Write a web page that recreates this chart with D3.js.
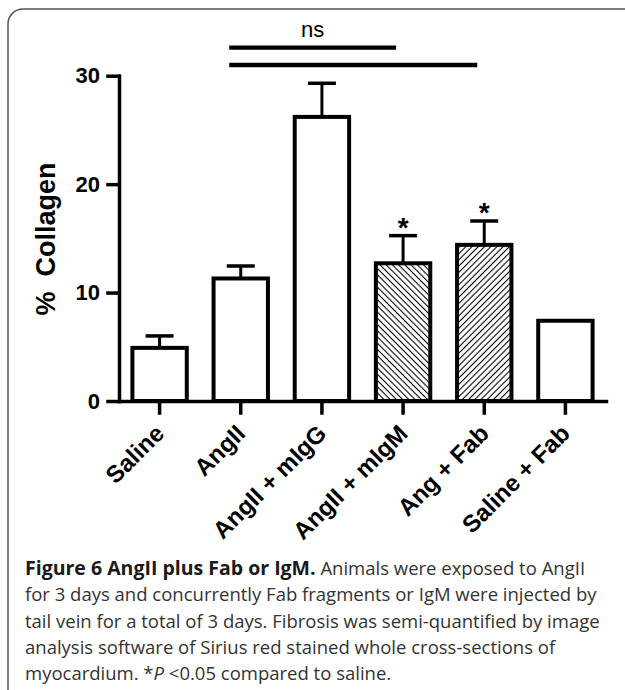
<!DOCTYPE html>
<html>
<head>
<meta charset="utf-8">
<script src="https://cdn.jsdelivr.net/npm/d3@7"></script>
<style>
body { margin: 0; background: #fff; }
svg { display: block; }
.chart text { font-family: "Liberation Sans", Arial, sans-serif; font-weight: bold; fill: #000; }
.caption { font-family: "Open Sans", sans-serif; font-size: 18.5px; fill: #333; }
</style>
</head>
<body>
<svg id="graph"></svg>
<script>
// groups along the x axis
var categories = ["Saline", "AngII", "AngII + mIgG", "AngII + mIgM", "Ang + Fab", "Saline + Fab"];
// % collagen, mean and SEM
var means = [4.9, 11.3, 26.2, 12.7, 14.4, 7.4];
var sems = [1.1, 1.15, 3.1, 2.55, 2.2, null];
var hatches = [null, null, null, "back", "fwd", null];
var starred = [false, false, false, true, true, false];
var yTicks = [0, 10, 20, 30];
var comparisons = [
    {from: "AngII", to: "AngII + mIgM", label: "ns"},
    {from: "AngII", to: "Ang + Fab", label: ""}
];
var captionLines = [
    [{t: "Figure 6 AngII plus Fab or IgM.", b: true}, {t: " Animals were exposed to AngII"}],
    [{t: "for 3 days and concurrently Fab fragments or IgM were injected by"}],
    [{t: "tail vein for a total of 3 days. Fibrosis was semi-quantified by image"}],
    [{t: "analysis software of Sirius red stained whole cross-sections of"}],
    [{t: "myocardium. *"}, {t: "P", i: true}, {t: " <0.05 compared to saline."}]
];

var width = 625, height = 690;

var data = categories.map(function (c, i) {
    return {key: c, value: means[i], sem: sems[i], hatch: hatches[i], star: starred[i]};
});

var svg = d3.select("#graph")
    .attr("width", width)
    .attr("height", height);

svg.append("rect").attr("width", width).attr("height", height).attr("fill", "#fff");

// figure frame (top and left edges with a rounded corner)
svg.append("path")
    .attr("d", "M8,690V24A15,15 0 0 1 23,9H625")
    .attr("fill", "none")
    .attr("stroke", "#555")
    .attr("stroke-width", 1.5);

var defs = svg.append("defs");
[["back", -45], ["fwd", 45]].forEach(function (h) {
    defs.append("pattern")
        .attr("id", "hatch-" + h[0])
        .attr("patternUnits", "userSpaceOnUse")
        .attr("width", 4.4)
        .attr("height", 4.4)
        .attr("patternTransform", "rotate(" + h[1] + ")")
        .call(function (p) {
            p.append("rect").attr("width", 4.4).attr("height", 4.4).attr("fill", "#fff");
            p.append("line")
                .attr("x1", 2.2).attr("y1", 0)
                .attr("x2", 2.2).attr("y2", 4.4)
                .attr("stroke", "#000")
                .attr("stroke-width", 1.1);
        });
});

var x = d3.scaleBand()
    .domain(categories)
    .range([119, 606])
    .paddingInner(0.33)
    .paddingOuter(0.165);

var y = d3.scaleLinear()
    .domain([0, 30])
    .range([401, 75.7]);

var chart = svg.append("g").attr("class", "chart");

// error bars
var err = chart.selectAll("g.err")
    .data(data.filter(function (d) { return d.sem != null; }))
    .enter().append("g")
    .attr("class", "err");
err.append("line")
    .attr("x1", function (d) { return x(d.key) + x.bandwidth() / 2; })
    .attr("x2", function (d) { return x(d.key) + x.bandwidth() / 2; })
    .attr("y1", function (d) { return y(d.value); })
    .attr("y2", function (d) { return y(d.value + d.sem); })
    .attr("stroke", "#000")
    .attr("stroke-width", 3);
err.append("line")
    .attr("x1", function (d) { return x(d.key) + x.bandwidth() / 2 - 14; })
    .attr("x2", function (d) { return x(d.key) + x.bandwidth() / 2 + 14; })
    .attr("y1", function (d) { return y(d.value + d.sem); })
    .attr("y2", function (d) { return y(d.value + d.sem); })
    .attr("stroke", "#000")
    .attr("stroke-width", 3.5);

// bars
chart.selectAll("rect.bar")
    .data(data)
    .enter().append("rect")
    .attr("class", "bar")
    .attr("x", function (d) { return x(d.key); })
    .attr("y", function (d) { return y(d.value); })
    .attr("width", x.bandwidth())
    .attr("height", function (d) { return y(0) - y(d.value); })
    .attr("fill", function (d) { return d.hatch ? "url(#hatch-" + d.hatch + ")" : "#fff"; })
    .attr("stroke", "#000")
    .attr("stroke-width", 4);

// significance stars
chart.selectAll("text.star")
    .data(data.filter(function (d) { return d.star; }))
    .enter().append("text")
    .attr("class", "star")
    .attr("x", function (d) { return x(d.key) + x.bandwidth() / 2; })
    .attr("y", function (d) { return y(d.value + d.sem) + 1; })
    .attr("text-anchor", "middle")
    .style("font-size", "28px")
    .text("*");

// comparison lines
comparisons.forEach(function (c, i) {
    var ly = 47.7 + i * 17.3;
    var x1 = x(c.from) + x.bandwidth() / 2 - 11.5;
    var x2 = x(c.to) + x.bandwidth() / 2 - 7;
    chart.append("line")
        .attr("x1", x1).attr("x2", x2)
        .attr("y1", ly).attr("y2", ly)
        .attr("stroke", "#000")
        .attr("stroke-width", 4.3);
    if (c.label) {
        chart.append("text")
            .attr("x", (x1 + x2) / 2)
            .attr("y", ly - 10.5)
            .attr("text-anchor", "middle")
            .style("font-weight", "normal")
            .style("font-size", "22px")
            .text(c.label);
    }
});

// axes
var yAxis = chart.append("g")
    .attr("transform", "translate(119,0)")
    .call(d3.axisLeft(y).tickValues(yTicks).tickSize(11).tickSizeOuter(0).tickPadding(8));
yAxis.selectAll("text").style("font-size", "22px").attr("fill", "#000");

var xAxis = chart.append("g")
    .attr("transform", "translate(0,401)")
    .call(d3.axisBottom(x).tickSize(12).tickSizeOuter(0));
xAxis.selectAll("text")
    .attr("x", 0).attr("y", 0).attr("dy", 0)
    .attr("text-anchor", "end")
    .attr("transform", "translate(6,34) rotate(-45)")
    .style("font-size", "24px")
    .attr("fill", "#000");

chart.selectAll(".domain, .tick line")
    .attr("stroke", "#000")
    .attr("stroke-width", 3.5)
    .attr("stroke-linecap", "square");

chart.append("text")
    .attr("transform", "translate(46,239) rotate(-90)")
    .attr("text-anchor", "middle")
    .attr("dominant-baseline", "central")
    .style("font-size", "27px")
    .style("white-space", "pre")
    .text("%  Collagen");

// caption
var cap = svg.append("text")
    .attr("class", "caption")
    .attr("x", 25)
    .attr("y", 575);
captionLines.forEach(function (line, i) {
    line.forEach(function (seg, j) {
        var ts = cap.append("tspan")
            .style("white-space", "pre")
            .text(seg.t);
        if (j === 0) ts.attr("x", 25).attr("y", 575 + i * 26.25);
        if (seg.b) ts.style("font-weight", "bold").style("font-size", "19.5px").style("fill", "#1a1a1a");
        if (seg.i) ts.style("font-style", "italic");
    });
});
</script>
</body>
</html>
